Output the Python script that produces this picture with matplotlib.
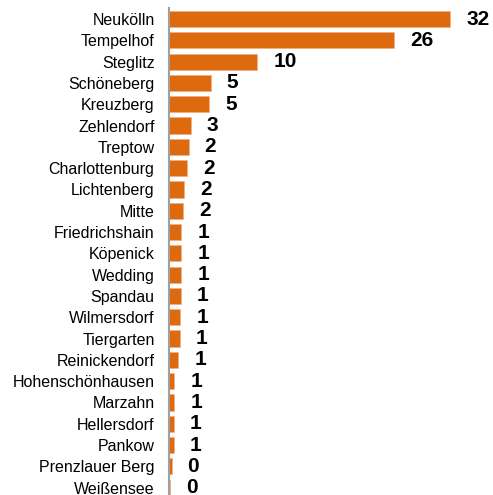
import matplotlib
matplotlib.use("Agg")
import matplotlib.pyplot as plt

plt.rcParams["font.family"] = ["Liberation Sans", "DejaVu Sans"]

# Berlin districts and their counts (labels show rounded values)
districts = [
    "Neukölln", "Tempelhof", "Steglitz", "Schöneberg", "Kreuzberg",
    "Zehlendorf", "Treptow", "Charlottenburg", "Lichtenberg", "Mitte",
    "Friedrichshain", "Köpenick", "Wedding", "Spandau", "Wilmersdorf",
    "Tiergarten", "Reinickendorf", "Hohenschönhausen", "Marzahn",
    "Hellersdorf", "Pankow", "Prenzlauer Berg", "Weißensee",
]
values = [
    32.0, 25.6, 10.1, 4.8, 4.65,
    2.55, 2.27, 2.08, 1.74, 1.70,
    1.44, 1.47, 1.44, 1.40, 1.36,
    1.25, 1.13, 0.68, 0.68,
    0.60, 0.57, 0.34, 0.19,
]

bar_color = "#DE6A10"

fig = plt.figure(figsize=(4.93, 4.95), dpi=100)
ax = fig.add_axes([0.3418, -0.0067, 0.6434, 0.9897])

ypos = list(range(len(districts)))
ax.barh(ypos, values, height=0.76, color=bar_color, edgecolor="#F0B080", linewidth=0.4)

for y, v in zip(ypos, values):
    ax.annotate(f"{int(v + 0.5)}", xy=(v, y), xytext=(11.5, 0), textcoords="offset points",
                ha="left", va="center", fontsize=15, fontweight="bold", color="black")

ax.set_yticks(ypos)
ax.set_yticklabels(districts, fontsize=11.5)
ax.set_ylim(len(districts) - 0.5, -0.5)
ax.set_xlim(0, 36)
ax.tick_params(axis="y", length=0, pad=10)
ax.set_xticks([])

for side in ["top", "right", "bottom"]:
    ax.spines[side].set_visible(False)
ax.spines["left"].set_color("#A0A0A0")
ax.spines["left"].set_linewidth(1.5)

fig.savefig("out.png", dpi=100)
